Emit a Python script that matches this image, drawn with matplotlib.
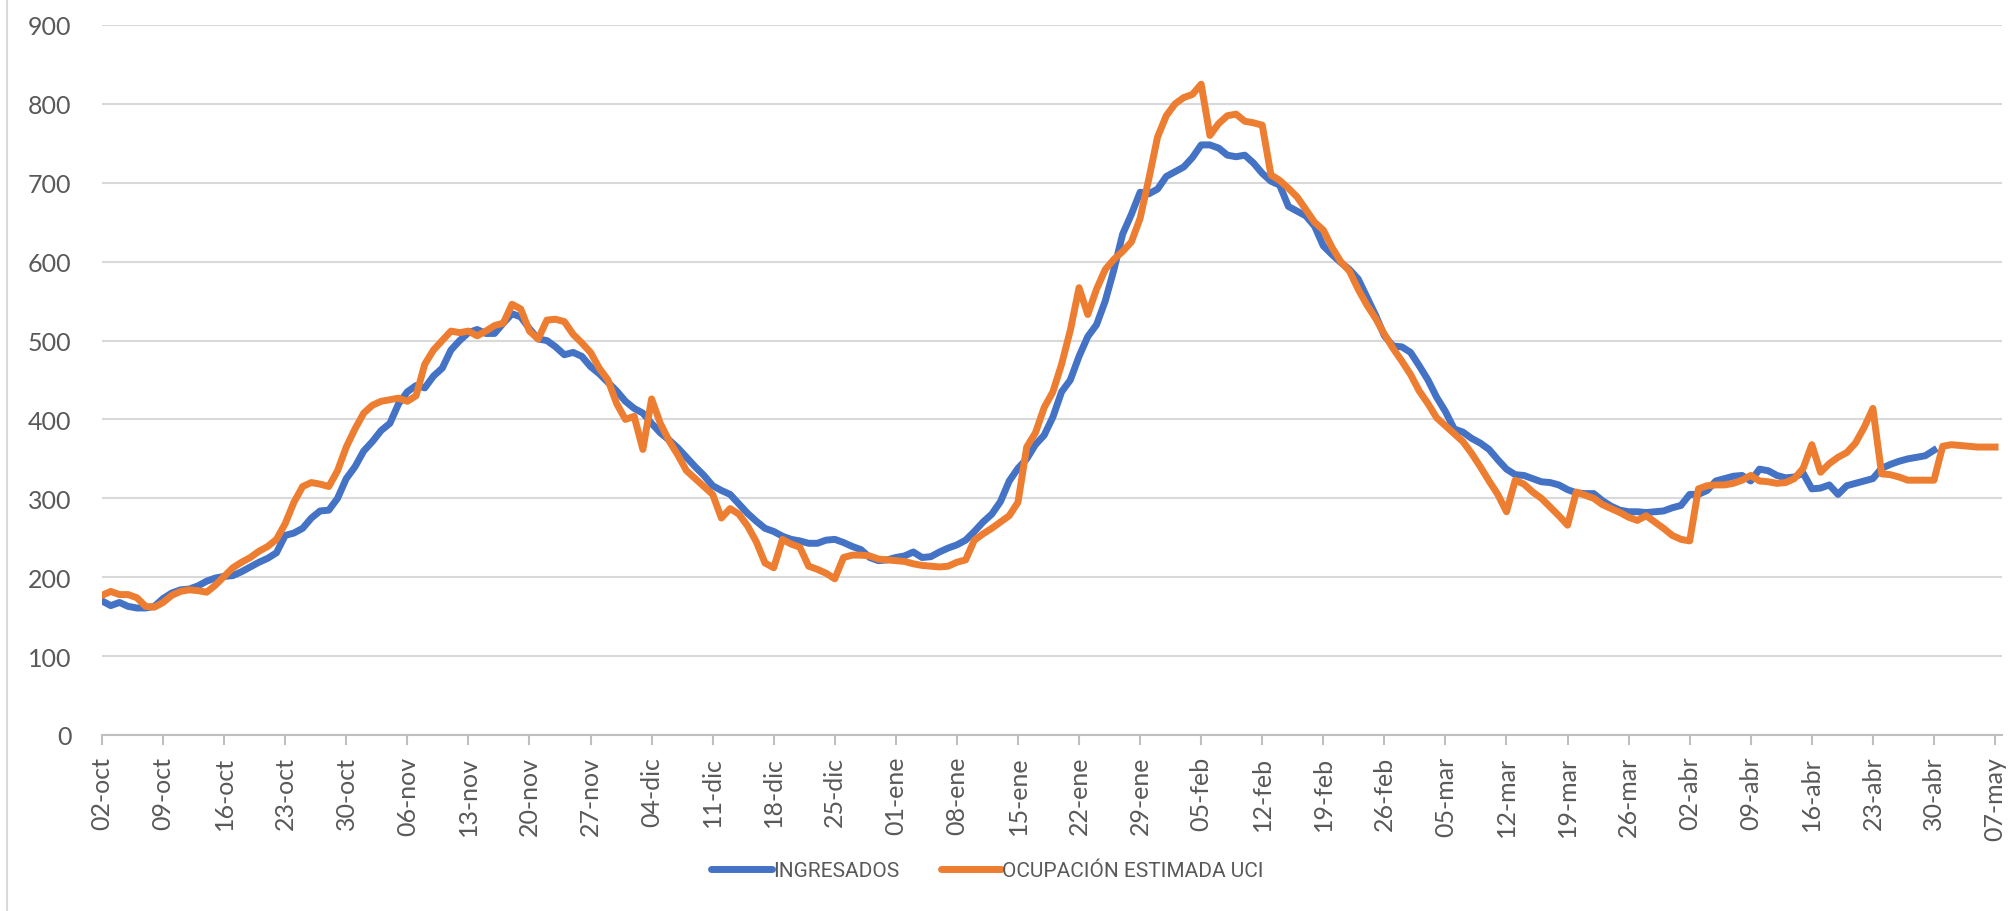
import numpy as np
import matplotlib
matplotlib.use('Agg')
from matplotlib import pyplot as plt
from matplotlib.lines import Line2D
import datetime as dt

# daily values, 02-oct .. 07-may
ingresados = [
    170, 164, 168, 163, 161, 161, 163, 173, 180, 184,
    185, 189, 195, 199, 201, 202, 207, 213, 219, 224,
    231, 253, 256, 262, 275, 284, 285, 300, 325, 340,
    360, 372, 386, 395, 420, 435, 443, 440, 455, 465,
    488, 500, 510, 514, 509, 509, 522, 534, 530, 515,
    502, 500, 492, 482, 485, 480, 467, 458, 447, 436,
    423, 414, 408, 395, 383, 374, 364, 352, 340, 329,
    316, 310, 305, 293, 281, 271, 262, 258, 252, 248,
    246, 243, 243, 247, 248, 244, 239, 235, 225, 221,
    222, 225, 227, 232, 225, 226, 232, 237, 241, 247,
    258, 270, 280, 296, 322, 338, 350, 368, 380, 403,
    435, 450, 480, 505, 520, 550, 590, 635, 660, 688,
    686, 692, 708, 714, 720, 732, 748, 748, 744, 735,
    733, 735, 725, 712, 702, 697, 670, 664, 658, 645,
    620, 609, 599, 590, 578, 555, 532, 506, 493, 492,
    485, 468, 450, 428, 410, 388, 384, 376, 370, 362,
    349, 337, 330, 329, 325, 321, 320, 317, 311, 307,
    306, 306, 297, 290, 285, 283, 283, 282, 283, 284,
    288, 291, 305, 305, 310, 322, 325, 328, 329, 322,
    337, 335, 329, 326, 327, 332, 312, 313, 317, 305,
    316, 319, 322, 325, 338, 343, 347, 350, 352, 354, 361,
]

ocupacion_uci = [
    177, 182, 178, 178, 174, 163, 162, 168, 177, 182,
    184, 183, 181, 190, 201, 212, 219, 225, 233, 239,
    248, 268, 295, 315, 320, 318, 315, 335, 365, 388,
    408, 418, 423, 425, 427, 423, 430, 470, 488, 500,
    512, 510, 512, 506, 512, 519, 522, 546, 540, 512,
    502, 526, 527, 524, 508, 497, 485, 465, 450, 420,
    400, 404, 362, 426, 395, 373, 355, 335, 325, 315,
    305, 275, 287, 280, 265, 245, 218, 212, 248, 242,
    238, 214, 210, 205, 198, 225, 228, 228, 227, 223,
    222, 221, 220, 217, 215, 214, 213, 214, 219, 222,
    247, 255, 262, 270, 278, 295, 365, 383, 415, 435,
    470, 513, 567, 533, 565, 590, 603, 613, 625, 655,
    705, 758, 785, 800, 808, 812, 825, 760, 775, 785,
    787, 778, 776, 773, 710, 703, 693, 682, 666, 650,
    640, 618, 600, 588, 565, 545, 528, 508, 490, 474,
    457, 436, 420, 402, 392, 382, 372, 357, 340, 322,
    305, 283, 323, 318, 308, 300, 289, 278, 266, 308,
    304, 300, 292, 287, 282, 276, 272, 278, 270, 262,
    253, 248, 246, 312, 316, 317, 317, 319, 323, 329,
    322, 321, 319, 320, 325, 338, 368, 333, 344, 352,
    358, 370, 390, 414, 331, 330, 327, 323, 323, 323,
    323, 366, 368, 367, 366, 365, 365, 365,
]

meses = {10: 'oct', 11: 'nov', 12: 'dic', 1: 'ene', 2: 'feb', 3: 'mar', 4: 'abr', 5: 'may'}
fechas = [dt.date(2020, 10, 2) + dt.timedelta(days=i) for i in range(len(ocupacion_uci))]
etiquetas = ['%02d-%s' % (f.day, meses[f.month]) for f in fechas]

plt.rcParams['font.family'] = ['Lato', 'DejaVu Sans']

fig = plt.figure(figsize=(20.15, 9.12), dpi=100)
ax = fig.add_axes([102 / 2015, (912 - 736) / 912, 1900 / 2015, 710 / 912])

ax.plot(range(len(ingresados)), ingresados, color='#4472C4', lw=5,
        solid_joinstyle='round', label='INGRESADOS')
ax.plot(range(len(ocupacion_uci)), ocupacion_uci, color='#ED7D31', lw=5,
        solid_joinstyle='round', label='OCUPACIÓN ESTIMADA UCI')

ax.set_xlim(0, 217.8)
ax.set_ylim(0, 900)
ax.set_yticks(range(0, 901, 100))
ticks = list(range(0, len(etiquetas), 7))
ax.set_xticks(ticks)
ax.set_xticklabels([etiquetas[i] for i in ticks], rotation=90)

ax.grid(axis='y', color='#d9d9d9', lw=1.5)
ax.set_axisbelow(True)
for s in ['top', 'right', 'left']:
    ax.spines[s].set_visible(False)
ax.spines['bottom'].set_color('#bfbfbf')
ax.spines['bottom'].set_linewidth(1.5)
ax.tick_params(axis='x', colors='#bfbfbf', length=7, width=1.5, pad=8,
               labelcolor='#595959', labelsize=18)
ax.tick_params(axis='y', length=0, pad=22, labelcolor='#595959', labelsize=18)

leg = fig.legend(loc='center', bbox_to_anchor=(0.49, 1 - 872 / 912), ncol=2, frameon=False,
                 prop={'family': ['Roboto', 'Lato'], 'size': 15}, handlelength=2.9,
                 handletextpad=0.05, columnspacing=2.0, labelcolor='#595959')
for h in leg.get_lines():
    h.set_linewidth(5)
    h.set_solid_capstyle('round')

fig.add_artist(Line2D([7 / 2015, 7 / 2015], [0, 1], color='#d9d9d9', lw=1.5))

fig.savefig('out.png', dpi=100)
